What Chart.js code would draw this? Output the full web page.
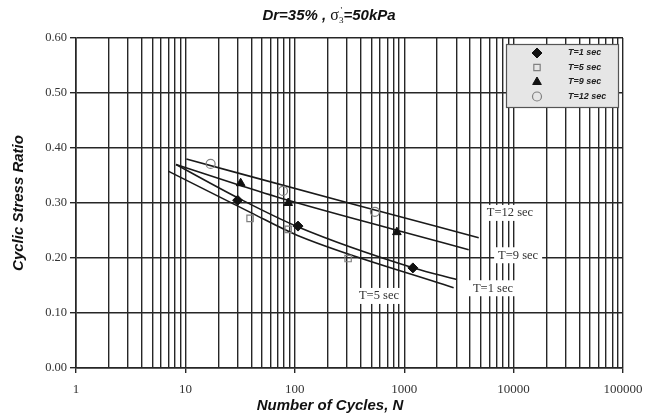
<!DOCTYPE html>
<html>
<head>
<meta charset="utf-8">
<script src="https://cdn.jsdelivr.net/npm/chart.js@4/dist/chart.umd.min.js"></script>
<style>
    html, body { margin: 0; padding: 0; background: #fff; }
    #wrap { width: 656px; height: 416px; }
</style>
</head>
<body>
<div id="wrap"><canvas id="csrChart" width="656" height="416"></canvas></div>
<script>
// Datos de ensayo (N, CSR)
const t1N = [30, 107, 1200];
const t1CSR = [0.305, 0.258, 0.182];
const t5N = [39, 87, 307];
const t5CSR = [0.272, 0.252, 0.199];
const t9N = [32, 87, 857];
const t9CSR = [0.336, 0.300, 0.247];
const t12N = [17, 78, 540];
const t12CSR = [0.371, 0.322, 0.284];

// Curvas ajustadas
const fit1N = [8.2, 31.1, 106, 1220, 3020];
const fit1CSR = [0.370, 0.308, 0.257, 0.182, 0.161];
const fit5N = [6.96, 39.2, 106, 2830];
const fit5CSR = [0.358, 0.283, 0.241, 0.146];
const fit9N = [8.2, 31.8, 87, 871, 3890];
const fit9CSR = [0.370, 0.332, 0.305, 0.250, 0.215];
const fit12N = [10.2, 323, 4800];
const fit12CSR = [0.380, 0.299, 0.237];

// Etiquetas de las curvas
const curveLabels = ['T=12 sec', 'T=9 sec', 'T=1 sec', 'T=5 sec'];
const curveLabelN = [9270, 11000, 6480, 588];
const curveLabelCSR = [0.282, 0.205, 0.145, 0.131];

// Ejes
const xDecades = [1, 10, 100, 1000, 10000, 100000];
const yTicks = [0, 0.1, 0.2, 0.3, 0.4, 0.5, 0.6];
const xTitle = 'Number of Cycles, N';

const GRID = '#262626';
const SANS = '"Liberation Sans", Arial, sans-serif';
const SERIF = '"Liberation Serif", "Times New Roman", serif';

function toPoints(xs, ys) {
    return xs.map((x, i) => ({ x: x, y: ys[i] }));
}

function fitDataset(xs, ys) {
    return {
        data: toPoints(xs, ys),
        showLine: true,
        borderColor: '#1a1a1a',
        borderWidth: 1.6,
        pointRadius: 0,
        cubicInterpolationMode: 'monotone',
        fill: false,
        isFit: true
    };
}

// Ticks del eje X: 1..9 por década
function buildLogTicks() {
    const ticks = [];
    xDecades.forEach((d, i) => {
        if (i === xDecades.length - 1) { ticks.push(d); return; }
        for (let m = 1; m < 10; m++) ticks.push(d * m);
    });
    return ticks;
}

const extrasPlugin = {
    id: 'extras',
    afterDraw(chart) {
        const ctx = chart.ctx;
        const area = chart.chartArea;
        const xs = chart.scales.x;
        const ys = chart.scales.y;

        // Título con sigma y subíndice
        ctx.save();
        ctx.fillStyle = '#111';
        ctx.textBaseline = 'alphabetic';
        const boldFont = 'italic bold 15px ' + SANS;
        const parts = [
            { t: 'Dr=35% , ', f: boldFont, dy: 0 },
            { t: 'σ', f: '16px ' + SERIF, dy: 0 },
            { t: '3', f: '9px ' + SERIF, dy: 3 },
            { t: '\'', f: '9px ' + SERIF, dy: -7, back: true },
            { t: '=50kPa', f: boldFont, dy: 0 }
        ];
        const widths = parts.map(p => { ctx.font = p.f; return p.back ? 0 : ctx.measureText(p.t).width; });
        const total = widths.reduce((a, b) => a + b, 0);
        let cx = 329 - total / 2;
        const baseY = 20;
        parts.forEach((p, i) => {
            ctx.font = p.f;
            ctx.fillText(p.t, p.back ? cx - 3 : cx, baseY + p.dy);
            cx += widths[i];
        });

        // Título del eje X
        ctx.font = 'italic bold 15px ' + SANS;
        ctx.textAlign = 'center';
        ctx.textBaseline = 'middle';
        ctx.fillText(xTitle, 330, 406);
        ctx.restore();

        // Etiquetas de curvas
        ctx.save();
        ctx.font = '12.5px ' + SERIF;
        ctx.textAlign = 'center';
        ctx.textBaseline = 'middle';
        curveLabels.forEach((txt, i) => {
            const px = xs.getPixelForValue(curveLabelN[i]);
            const py = ys.getPixelForValue(curveLabelCSR[i]);
            const w = ctx.measureText(txt).width;
            ctx.fillStyle = '#fff';
            ctx.fillRect(px - w / 2 - 4, py - 8, w + 8, 16);
            ctx.fillStyle = '#333';
            ctx.fillText(txt, px, py);
        });
        ctx.restore();

        // Leyenda
        const series = chart.data.datasets.filter(d => !d.isFit);
        const bx = area.right - 117, by = area.top + 6, bw = 112, bh = 63;
        ctx.save();
        ctx.fillStyle = '#e6e6e6';
        ctx.fillRect(bx, by, bw, bh);
        ctx.strokeStyle = '#555';
        ctx.lineWidth = 1.2;
        ctx.strokeRect(bx + 0.5, by + 0.5, bw, bh);
        ctx.font = 'italic bold 9px ' + SANS;
        ctx.textBaseline = 'middle';
        ctx.textAlign = 'left';
        series.forEach((ds, i) => {
            const ry = by + 9 + i * 14.5;
            const mx = bx + 31;
            ctx.fillStyle = ds.backgroundColor;
            ctx.strokeStyle = ds.borderColor;
            ctx.lineWidth = ds.borderWidth;
            Chart.helpers.drawPoint(ctx, {
                pointStyle: ds.pointStyle,
                radius: ds.pointRadius,
                rotation: 0,
                borderWidth: ds.borderWidth
            }, mx, ry);
            ctx.fillStyle = '#222';
            ctx.fillText(ds.label, bx + 62, ry);
        });
        ctx.restore();
    }
};

const chart = new Chart(document.getElementById('csrChart'), {
    type: 'scatter',
    data: {
        datasets: [
            {
                label: 'T=1 sec',
                data: toPoints(t1N, t1CSR),
                pointStyle: 'rectRot',
                pointRadius: 5,
                backgroundColor: '#111',
                borderColor: '#111',
                borderWidth: 1
            },
            {
                label: 'T=5 sec',
                data: toPoints(t5N, t5CSR),
                pointStyle: 'rect',
                pointRadius: 4.5,
                backgroundColor: 'rgba(255,255,255,0)',
                borderColor: '#808080',
                borderWidth: 1.2
            },
            {
                label: 'T=9 sec',
                data: toPoints(t9N, t9CSR),
                pointStyle: 'triangle',
                pointRadius: 5,
                backgroundColor: '#111',
                borderColor: '#111',
                borderWidth: 1
            },
            {
                label: 'T=12 sec',
                data: toPoints(t12N, t12CSR),
                pointStyle: 'circle',
                pointRadius: 4.5,
                backgroundColor: 'rgba(255,255,255,0)',
                borderColor: '#808080',
                borderWidth: 1.2
            },
            fitDataset(fit1N, fit1CSR),
            fitDataset(fit5N, fit5CSR),
            fitDataset(fit9N, fit9CSR),
            fitDataset(fit12N, fit12CSR)
        ]
    },
    options: {
        responsive: false,
        animation: false,
        layout: { padding: { top: 38, right: 33, left: 6, bottom: 0 } },
        plugins: {
            legend: { display: false },
            tooltip: { enabled: false },
            title: { display: false }
        },
        scales: {
            x: {
                type: 'logarithmic',
                min: 1,
                max: 100000,
                afterBuildTicks: scale => {
                    scale.ticks = buildLogTicks().map(v => ({ value: v }));
                },
                afterFit: scale => { scale.height = 48; },
                ticks: {
                    autoSkip: false,
                    maxRotation: 0,
                    padding: 9,
                    color: '#333',
                    font: { family: SERIF, size: 13 },
                    callback: value => xDecades.includes(value) ? String(value) : ''
                },
                grid: {
                    color: GRID,
                    lineWidth: 1.4,
                    tickLength: 5,
                    tickColor: c => (c.tick && xDecades.includes(c.tick.value)) ? GRID : 'rgba(0,0,0,0)'
                },
                border: { color: GRID, width: 1.6 }
            },
            y: {
                min: 0,
                max: 0.6,
                afterBuildTicks: scale => {
                    scale.ticks = yTicks.map(v => ({ value: v }));
                },
                afterFit: scale => { scale.width = 70; },
                ticks: {
                    padding: 3,
                    color: '#333',
                    font: { family: SERIF, size: 12.5 },
                    callback: value => Number(value).toFixed(2)
                },
                grid: {
                    color: GRID,
                    lineWidth: 1.4,
                    tickLength: 6
                },
                border: { color: GRID, width: 1.6 },
                title: {
                    display: true,
                    text: 'Cyclic Stress Ratio',
                    color: '#111',
                    padding: { top: 4, bottom: 4 },
                    font: { family: SANS, size: 15, weight: 'bold', style: 'italic' }
                }
            }
        }
    },
    plugins: [extrasPlugin]
});
</script>
</body>
</html>
